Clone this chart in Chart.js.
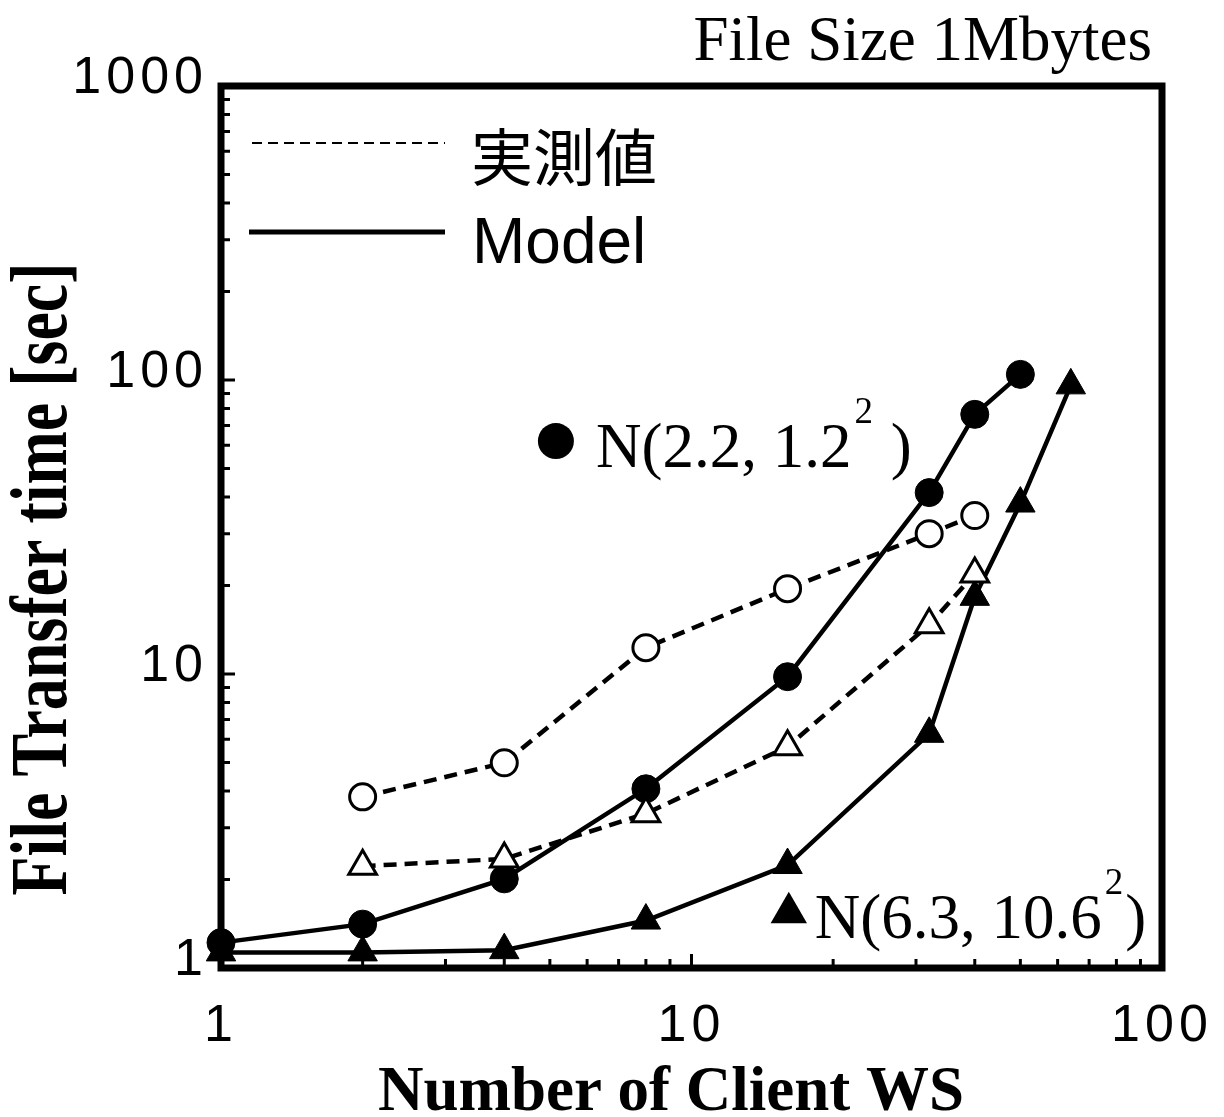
<!DOCTYPE html>
<html>
<head>
<meta charset="utf-8">
<script src="https://cdn.jsdelivr.net/npm/chart.js@4.4.1/dist/chart.umd.min.js"></script>
<style>
  html, body { margin: 0; padding: 0; background: #fff; }
  #wrap { width: 1224px; height: 1117px; }
</style>
</head>
<body>
<div id="wrap"><canvas id="myChart" width="1224" height="1117"></canvas></div>
<script>
// texts
const chartTitle = "File Size 1Mbytes";
const xAxisTitle = "Number of Client WS";
const yAxisTitle = "File Transfer time [sec]";
const legendMeasured = "実測値";
const legendModel = "Model";
const noteNormal = ["N(2.2, 1.2", "2", " )"];
const noteExp = ["N(6.3, 10.6", "2", ")"];

// tick labels
const xTickLabels = [1, 10, 100];
const yTickLabels = [1, 10, 100, 1000];
const xMinorTicks = [2, 3, 4, 5, 6, 7, 8, 9, 20, 30, 40, 50, 60, 70, 80, 90];
const xMajorTicks = [10];
const yMinorTicks = [2, 3, 4, 5, 6, 7, 8, 9, 20, 30, 40, 50, 60, 70, 80, 90, 200, 300, 400, 500, 600, 700, 800, 900];
const yMajorTicks = [10, 100];

// model, normal distribution (filled circles)
const clientsModelNormal = [1, 2, 4, 8, 16, 32, 40, 50];
const timeModelNormal = [1.22, 1.41, 2.01, 4.07, 9.79, 41.4, 76.4, 104.5];

// model, second distribution (filled triangles)
const clientsModelExp = [1, 2, 4, 8, 16, 32, 40, 50, 64];
const timeModelExp = [1.13, 1.13, 1.15, 1.45, 2.24, 6.26, 18.3, 38.0, 95.9];

// measured (open circles)
const clientsMeasured = [2, 4, 8, 16, 32, 40];
const timeMeasuredNormal = [3.82, 4.99, 12.29, 19.5, 30.0, 34.6];

// measured (open triangles)
const timeMeasuredExp = [2.22, 2.35, 3.35, 5.66, 14.7, 21.9];

// where the two annotation markers sit, in data units
const noteNormalAt = [5.15, 62];
const noteExpAt = [16.1, 1.54];

const serif = '"Liberation Serif", "Times New Roman", serif';
const sans = '"Liberation Sans", Arial, sans-serif';
const cjk = '"Noto Sans CJK JP", "Noto Sans CJK SC", sans-serif';

const toPoints = (xs, ys) => xs.map((x, i) => ({ x: x, y: ys[i] }));

const isLabelled = (value, list) =>
  list.some((v) => Math.abs(v - value) < 1e-6 * v);

const drawTriangle = (ctx, x, y, r) => {
  ctx.beginPath();
  ctx.moveTo(x, y - r);
  ctx.lineTo(x + r * Math.sin(2 * Math.PI / 3), y + r / 2);
  ctx.lineTo(x - r * Math.sin(2 * Math.PI / 3), y + r / 2);
  ctx.closePath();
  ctx.fill();
};

const drawNote = (ctx, parts, x, y) => {
  ctx.textAlign = "left";
  ctx.textBaseline = "alphabetic";
  ctx.font = "63px " + serif;
  ctx.fillText(parts[0], x, y);
  let w = ctx.measureText(parts[0]).width + 3;
  ctx.font = "37px " + serif;
  ctx.fillText(parts[1], x + w, y - 44);
  w += ctx.measureText(parts[1]).width + 2;
  ctx.font = "63px " + serif;
  ctx.fillText(parts[2], x + w, y);
};

// frame and inward ticks
const framePlugin = {
  id: "frame",
  beforeDraw(chart) {
    // the tick numbers of the original are set a little wide
    chart.ctx.letterSpacing = "5px";
  },
  beforeDatasetsDraw(chart) {
    const { ctx, chartArea: a } = chart;
    ctx.letterSpacing = "0px";
    const xs = chart.scales.x;
    const ys = chart.scales.y;
    ctx.save();
    ctx.strokeStyle = "#000";
    ctx.lineWidth = 3;
    ctx.beginPath();
    yMinorTicks.forEach((v) => {
      const p = ys.getPixelForValue(v);
      ctx.moveTo(a.left, p);
      ctx.lineTo(a.left + 9, p);
    });
    yMajorTicks.forEach((v) => {
      const p = ys.getPixelForValue(v);
      ctx.moveTo(a.left, p);
      ctx.lineTo(a.left + 14, p);
    });
    xMinorTicks.forEach((v) => {
      const p = xs.getPixelForValue(v);
      ctx.moveTo(p, a.bottom);
      ctx.lineTo(p, a.bottom - 9);
    });
    xMajorTicks.forEach((v) => {
      const p = xs.getPixelForValue(v);
      ctx.moveTo(p, a.bottom);
      ctx.lineTo(p, a.bottom - 14);
    });
    ctx.stroke();
    ctx.lineWidth = 7;
    ctx.strokeRect(a.left, a.top, a.right - a.left, a.bottom - a.top);
    ctx.restore();
  },
  afterDraw(chart) {
    const { ctx } = chart;
    const xs = chart.scales.x;
    const ys = chart.scales.y;
    ctx.save();
    ctx.letterSpacing = "0px";
    ctx.fillStyle = "#000";
    ctx.strokeStyle = "#000";

    // title
    ctx.font = "63px " + serif;
    ctx.textAlign = "right";
    ctx.textBaseline = "alphabetic";
    ctx.fillText(chartTitle, 1152, 60);

    // axis titles
    ctx.font = "bold 63px " + serif;
    ctx.textAlign = "center";
    ctx.fillText(xAxisTitle, 671, 1110);
    ctx.save();
    ctx.translate(66, 579);
    ctx.rotate(-Math.PI / 2);
    ctx.scale(1, 1.24);
    ctx.font = "bold 64px " + serif;
    ctx.fillText(yAxisTitle, 0, 0);
    ctx.restore();

    // legend
    ctx.lineWidth = 2;
    ctx.setLineDash([10, 6]);
    ctx.beginPath();
    ctx.moveTo(252, 143);
    ctx.lineTo(445, 143);
    ctx.stroke();
    ctx.setLineDash([]);
    ctx.lineWidth = 5;
    ctx.beginPath();
    ctx.moveTo(249, 232);
    ctx.lineTo(445, 232);
    ctx.stroke();
    ctx.textAlign = "left";
    ctx.textBaseline = "middle";
    ctx.font = "62px " + cjk;
    ctx.fillText(legendMeasured, 471, 157);
    ctx.textBaseline = "alphabetic";
    ctx.font = "64px " + sans;
    ctx.fillText(legendModel, 472, 263);

    // annotations
    const c1x = xs.getPixelForValue(noteNormalAt[0]);
    const c1y = ys.getPixelForValue(noteNormalAt[1]);
    ctx.beginPath();
    ctx.arc(c1x, c1y, 18, 0, Math.PI * 2);
    ctx.fill();
    drawNote(ctx, noteNormal, c1x + 40, c1y + 26);

    const t2x = xs.getPixelForValue(noteExpAt[0]);
    const t2y = ys.getPixelForValue(noteExpAt[1]);
    drawTriangle(ctx, t2x, t2y, 21);
    drawNote(ctx, noteExp, t2x + 26, t2y + 25);
    ctx.restore();
  },
};

const lineBase = {
  borderColor: "#000",
  borderWidth: 4.5,
  tension: 0,
  fill: false,
  clip: false,
  pointBorderColor: "#000",
};

const config = {
  type: "line",
  data: {
    datasets: [
      {
        ...lineBase,
        label: "measured normal",
        data: toPoints(clientsMeasured, timeMeasuredNormal),
        borderDash: [13, 8],
        pointStyle: "circle",
        pointRadius: 13,
        pointBorderWidth: 3,
        pointBackgroundColor: "#fff",
      },
      {
        ...lineBase,
        label: "measured exp",
        data: toPoints(clientsMeasured, timeMeasuredExp),
        borderDash: [13, 8],
        pointStyle: "triangle",
        pointRadius: 16,
        pointBorderWidth: 3,
        pointBackgroundColor: "#fff",
      },
      {
        ...lineBase,
        label: "model normal",
        data: toPoints(clientsModelNormal, timeModelNormal),
        pointStyle: "circle",
        pointRadius: 14,
        pointBorderWidth: 1,
        pointBackgroundColor: "#000",
      },
      {
        ...lineBase,
        label: "model exp",
        data: toPoints(clientsModelExp, timeModelExp),
        pointStyle: "triangle",
        pointRadius: 17,
        pointBorderWidth: 1,
        pointBackgroundColor: "#000",
      },
    ],
  },
  options: {
    responsive: false,
    animation: false,
    layout: { padding: { top: 86, right: 62, left: 0, bottom: 0 } },
    plugins: {
      legend: { display: false },
      tooltip: { enabled: false },
      title: { display: false },
    },
    scales: {
      x: {
        type: "logarithmic",
        min: 1,
        max: 100,
        grid: { display: false, drawTicks: false },
        border: { display: false },
        ticks: {
          autoSkip: false,
          maxRotation: 0,
          padding: 27,
          color: "#000",
          font: { family: sans, size: 52 },
          callback: (value) => (isLabelled(value, xTickLabels) ? String(value) : ""),
        },
        afterFit: (scale) => {
          scale.height = 149;
          // the last label may hang past the frame, as in the original
          scale.paddingLeft = 0;
          scale.paddingRight = 0;
        },
      },
      y: {
        type: "logarithmic",
        min: 1,
        max: 1000,
        grid: { display: false, drawTicks: false },
        border: { display: false },
        ticks: {
          autoSkip: false,
          padding: 13,
          labelOffset: -7,
          color: "#000",
          font: { family: sans, size: 52 },
          callback: (value) => (isLabelled(value, yTickLabels) ? String(value) : ""),
        },
        afterFit: (scale) => {
          scale.width = 221;
        },
      },
    },
  },
  plugins: [framePlugin],
};

const myChart = new Chart(document.querySelector("#myChart"), config);
</script>
</body>
</html>
